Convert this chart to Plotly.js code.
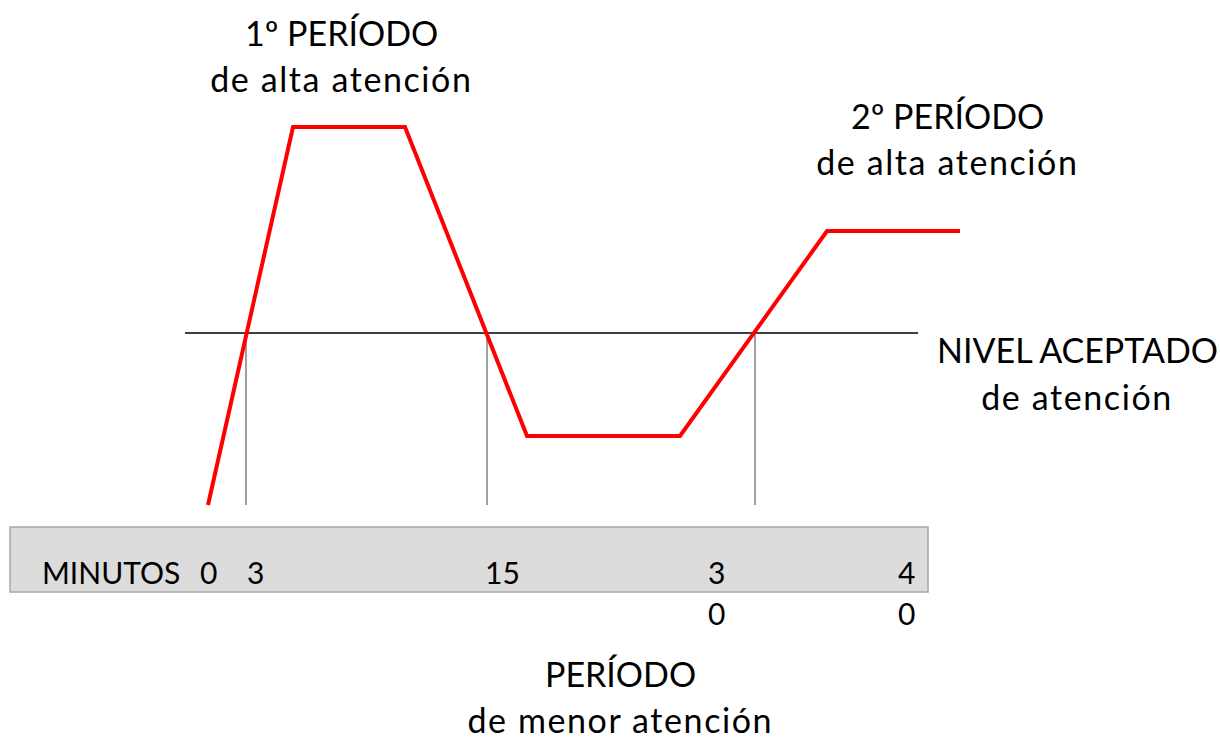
<!DOCTYPE html>
<html>
<head>
<meta charset="utf-8">
<script src="https://cdn.plot.ly/plotly-3.0.1.min.js"></script>
<style>html,body{margin:0;padding:0;background:#fff;}#chart{width:1220px;height:742px;}</style>
</head>
<body>
<div id="chart"></div>
<script>
// Attention curve (in drawing units: x to the right, y downward)
const curveX = [208, 293, 405, 527, 680, 827, 960];
const curveY = [505, 127, 127, 436, 436, 231, 231];
// Accepted level line
const levelX = [185, 918];
const levelY = 333;
// Vertical crossing markers
const crossX = [246, 487, 755];
const crossTop = 333, crossBottom = 505;
// Minutes band
const bandX = [10, 928];
const bandY = [527, 592];
const minuteLabels = ["0", "3", "15", "3", "4"];
const minuteLabelX = [208, 255, 502, 716, 906];
const minuteSecondRow = ["", "", "", "0", "0"];
// Text blocks
const labels = [
  {t: "1º PERÍODO", x: 341, y: 32},
  {t: "de alta atención", x: 341, y: 78},
  {t: "2º PERÍODO", x: 947, y: 115},
  {t: "de alta atención", x: 947, y: 161},
  {t: "NIVEL ACEPTADO", x: 1077, y: 349},
  {t: "de atención", x: 1077, y: 396},
  {t: "PERÍODO", x: 620, y: 673},
  {t: "de menor atención", x: 620, y: 719}
];

const font = {family: "Lato, 'Open Sans', sans-serif", size: 34, color: "#000"};
const smallFont = {family: "Lato, 'Open Sans', sans-serif", size: 30, color: "#000"};

const traces = [];
traces.push({x: levelX, y: [levelY, levelY], mode: "lines", line: {color: "#000", width: 1.3}, hoverinfo: "skip"});
crossX.forEach(cx => traces.push({x: [cx, cx], y: [crossTop, crossBottom], mode: "lines", line: {color: "#808080", width: 1.5}, hoverinfo: "skip"}));
traces.push({x: curveX, y: curveY, mode: "lines", line: {color: "#ff0000", width: 4, shape: "linear"}, hoverinfo: "skip"});

const annotations = labels.map(l => ({x: l.x, y: l.y, xref: "x", yref: "y", text: l.t, showarrow: false, font: font, xanchor: "center", yanchor: "middle"}));
annotations.push({x: 40, y: 572, xref: "x", yref: "y", text: "MINUTOS", showarrow: false, font: smallFont, xanchor: "left", yanchor: "middle"});
minuteLabels.forEach((m, i) => {
  annotations.push({x: minuteLabelX[i], y: 572, xref: "x", yref: "y", text: m, showarrow: false, font: smallFont, xanchor: "center", yanchor: "middle"});
  if (minuteSecondRow[i]) annotations.push({x: minuteLabelX[i], y: 613, xref: "x", yref: "y", text: minuteSecondRow[i], showarrow: false, font: smallFont, xanchor: "center", yanchor: "middle"});
});

const layout = {
  width: 1220, height: 742,
  margin: {l: 0, r: 0, t: 0, b: 0},
  paper_bgcolor: "#fff", plot_bgcolor: "#fff",
  showlegend: false,
  xaxis: {range: [0, 1220], visible: false, fixedrange: true},
  yaxis: {range: [742, 0], visible: false, fixedrange: true},
  shapes: [{type: "rect", xref: "x", yref: "y", x0: bandX[0], x1: bandX[1], y0: bandY[0], y1: bandY[1], fillcolor: "#dcdcdc", line: {color: "#a6a6a6", width: 1.5}, layer: "below"}],
  annotations: annotations
};

Plotly.newPlot("chart", traces, layout, {staticPlot: true}).then(() => {
  document.querySelectorAll("#chart .annotation-text").forEach(el => {
    if (el.textContent.indexOf("de ") === 0) el.style.letterSpacing = "1.6px";
  });
});
</script>
</body>
</html>
